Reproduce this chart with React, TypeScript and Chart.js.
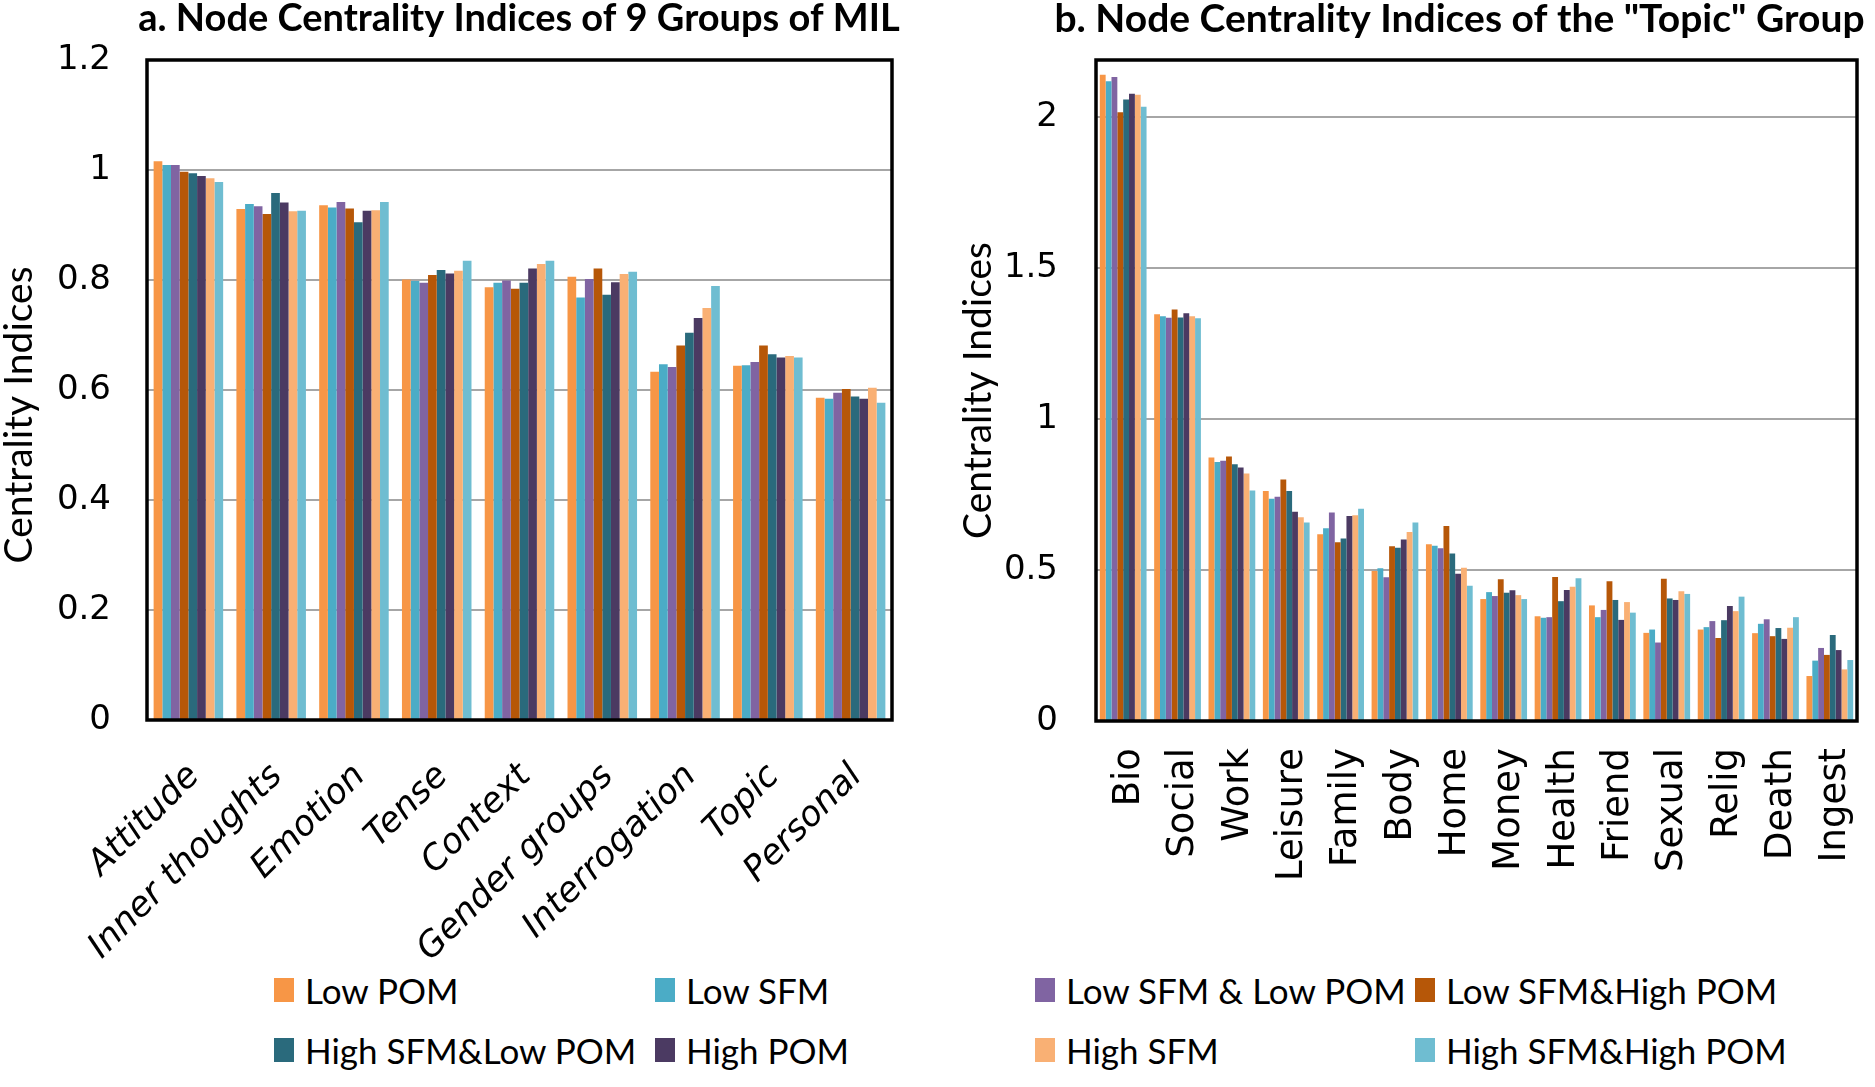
import React, { useEffect, useRef } from 'react';
import { Chart, registerables } from 'chart.js';

Chart.register(...registerables);

// ---------- data ----------
const seriesNames = [
  'Low POM',
  'Low SFM',
  'Low SFM & Low POM',
  'Low SFM&High POM',
  'High SFM&Low POM',
  'High POM',
  'High SFM',
  'High SFM&High POM',
];
const seriesColors = ['#F79646', '#4BACC6', '#8064A2', '#B65708', '#2A6A7C', '#4B3A62', '#F9B074', '#6FBDD1'];

const groupCategories = ['Attitude', 'Inner thoughts', 'Emotion', 'Tense', 'Context', 'Gender groups', 'Interrogation', 'Topic', 'Personal'];
const groupTicks = [0, 0.2, 0.4, 0.6, 0.8, 1, 1.2];

const groupLowPOM = [1.016, 0.929, 0.936, 0.801, 0.787, 0.806, 0.633, 0.644, 0.586];
const groupLowSFM = [1.009, 0.938, 0.932, 0.798, 0.795, 0.768, 0.647, 0.645, 0.584];
const groupLowSFMLowPOM = [1.009, 0.934, 0.942, 0.795, 0.799, 0.802, 0.642, 0.651, 0.595];
const groupLowSFMHighPOM = [0.997, 0.92, 0.93, 0.809, 0.784, 0.821, 0.681, 0.681, 0.602];
const groupHighSFMLowPOM = [0.994, 0.958, 0.905, 0.818, 0.795, 0.773, 0.704, 0.665, 0.588];
const groupHighPOM = [0.989, 0.941, 0.926, 0.812, 0.821, 0.796, 0.731, 0.659, 0.584];
const groupHighSFM = [0.985, 0.925, 0.927, 0.817, 0.829, 0.811, 0.749, 0.662, 0.604];
const groupHighSFMHighPOM = [0.978, 0.926, 0.942, 0.835, 0.835, 0.815, 0.789, 0.659, 0.577];

const topicCategories = ['Bio', 'Social', 'Work', 'Leisure', 'Family', 'Body', 'Home', 'Money', 'Health', 'Friend', 'Sexual', 'Relig', 'Death', 'Ingest'];
const topicTicks = [0, 0.5, 1, 1.5, 2];

const topicLowPOM = [2.141, 1.348, 0.873, 0.762, 0.619, 0.497, 0.586, 0.404, 0.347, 0.383, 0.292, 0.303, 0.291, 0.149];
const topicLowSFM = [2.12, 1.341, 0.858, 0.736, 0.639, 0.506, 0.581, 0.427, 0.342, 0.344, 0.303, 0.311, 0.322, 0.2];
const topicLowSFMLowPOM = [2.134, 1.336, 0.862, 0.743, 0.691, 0.476, 0.572, 0.414, 0.344, 0.368, 0.26, 0.331, 0.337, 0.242];
const topicLowSFMHighPOM = [2.017, 1.363, 0.876, 0.8, 0.592, 0.579, 0.646, 0.47, 0.477, 0.463, 0.471, 0.275, 0.281, 0.219];
const topicHighSFMLowPOM = [2.059, 1.337, 0.851, 0.762, 0.605, 0.574, 0.555, 0.425, 0.397, 0.401, 0.406, 0.334, 0.308, 0.285];
const topicHighPOM = [2.078, 1.351, 0.84, 0.693, 0.679, 0.601, 0.488, 0.433, 0.434, 0.335, 0.401, 0.381, 0.272, 0.235];
const topicHighSFM = [2.075, 1.341, 0.82, 0.675, 0.682, 0.626, 0.508, 0.417, 0.445, 0.394, 0.43, 0.364, 0.309, 0.171];
const topicHighSFMHighPOM = [2.035, 1.334, 0.764, 0.658, 0.703, 0.658, 0.448, 0.404, 0.473, 0.359, 0.421, 0.412, 0.344, 0.202];

const groupSeries = [groupLowPOM, groupLowSFM, groupLowSFMLowPOM, groupLowSFMHighPOM, groupHighSFMLowPOM, groupHighPOM, groupHighSFM, groupHighSFMHighPOM];
const topicSeries = [topicLowPOM, topicLowSFM, topicLowSFMLowPOM, topicLowSFMHighPOM, topicHighSFMLowPOM, topicHighPOM, topicHighSFM, topicHighSFMHighPOM];

// legend order (two rows of four)
const legendRows = [
  [0, 1, 2, 3],
  [4, 5, 6, 7],
];

// ---------- helpers ----------
const framePlugin = {
  id: 'frame',
  afterDraw(chart: any) {
    const { ctx, chartArea: a } = chart;
    ctx.save();
    ctx.strokeStyle = '#000';
    ctx.lineWidth = 3.5;
    ctx.strokeRect(a.left, a.top, a.right - a.left, a.bottom - a.top);
    ctx.restore();
  },
};

const fmt = (v: number) => String(Number(Number(v).toFixed(2)));

interface PanelProps {
  left: number;
  width: number;
  height: number;
  title: string;
  titleSize: number;
  categories: string[];
  series: number[][];
  ticks: number[];
  yMax: number;
  yAxisWidth: number;
  rightSpace: number;
  xAxisHeight: number;
  yTitle: string;
  yTitleOffset: number;
  tickPad: number;
  catPct: number;
  xFont: any;
  xRotation: number;
  xPad: number;
  xLabelOffset: number;
}

function Panel(p: PanelProps) {
  const ref = useRef<HTMLCanvasElement | null>(null);
  useEffect(() => {
    if (!ref.current) return;
    const chart = new Chart(ref.current, {
      type: 'bar',
      data: {
        labels: p.categories,
        datasets: p.series.map((vals, i) => ({
          label: seriesNames[i],
          data: vals,
          backgroundColor: seriesColors[i],
          borderWidth: 0,
          barPercentage: 1,
          categoryPercentage: p.catPct,
          yAxisID: 'y',
        })),
      },
      options: {
        responsive: false,
        animation: false,
        devicePixelRatio: 1,
        layout: { padding: 0 },
        plugins: {
          legend: { display: false },
          tooltip: { enabled: false },
          title: {
            display: true,
            text: p.title,
            fullSize: true,
            color: '#000',
            font: { family: 'Lato', size: p.titleSize, weight: 'bold', lineHeight: 1.0 },
            padding: { top: 0, bottom: 60 - p.titleSize },
          },
        },
        scales: {
          x: {
            grid: { display: false, drawTicks: false },
            border: { display: false },
            ticks: {
              color: '#000',
              font: p.xFont,
              autoSkip: false,
              minRotation: p.xRotation,
              maxRotation: p.xRotation,
              padding: p.xPad,
              labelOffset: p.xLabelOffset,
            },
            afterFit: (s: any) => {
              s.height = p.xAxisHeight;
            },
          },
          y: {
            position: 'left',
            min: 0,
            max: p.yMax,
            afterBuildTicks: (s: any) => {
              s.ticks = p.ticks.map((v) => ({ value: v }));
            },
            grid: { color: '#A6A6A6', lineWidth: 2, drawTicks: false },
            border: { display: false },
            ticks: {
              color: '#000',
              font: { family: 'DejaVu Sans', size: 34 },
              padding: p.tickPad,
              callback: (v: any) => fmt(v),
            },
            title: {
              display: true,
              text: p.yTitle,
              color: '#000',
              font: { family: 'Lato', size: 39, lineHeight: 1.0 },
              padding: { top: p.yTitleOffset, bottom: 0 },
            },
            afterFit: (s: any) => {
              s.width = p.yAxisWidth;
            },
          },
          spacer: {
            type: 'linear',
            position: 'right',
            display: true,
            grid: { display: false, drawTicks: false },
            border: { display: false },
            ticks: { display: false },
            afterFit: (s: any) => {
              s.width = p.rightSpace;
            },
          },
        },
      } as any,
      plugins: [framePlugin],
    });
    return () => chart.destroy();
  }, []);
  return (
    <canvas
      ref={ref}
      width={p.width}
      height={p.height}
      style={{ position: 'absolute', left: p.left, top: 0, width: p.width, height: p.height }}
    />
  );
}

const legendColX = [274, 655, 1035, 1415];
const legendRowY = [990, 1050];

export default function App() {
  return (
    <div
      style={{
        position: 'absolute',
        left: 0,
        top: 0,
        width: 1875,
        height: 1087,
        background: '#fff',
        overflow: 'hidden',
      }}
    >
      <Panel
        left={0}
        width={1038}
        height={960}
        title="a. Node Centrality Indices of 9 Groups of MIL"
        titleSize={38}
        categories={groupCategories}
        series={groupSeries}
        ticks={groupTicks}
        yMax={1.2}
        yAxisWidth={147}
        rightSpace={146}
        xAxisHeight={240}
        yTitle={'Centrality Indices\u00A0\u00A0\u00A0\u00A0\u00A0'}
        yTitleOffset={0}
        tickPad={36}
        catPct={0.84}
        xFont={{ family: 'DejaVu Sans', size: 35, style: 'italic' }}
        xRotation={45}
        xPad={36}
        xLabelOffset={6}
      />
      <Panel
        left={940}
        width={1039}
        height={960}
        title={'b. Node Centrality Indices of the "Topic" Group'}
        titleSize={39}
        categories={topicCategories}
        series={topicSeries}
        ticks={topicTicks}
        yMax={2.19}
        yAxisWidth={156}
        rightSpace={122}
        xAxisHeight={239}
        yTitle="Centrality Indices"
        yTitleOffset={19}
        tickPad={38}
        catPct={0.86}
        xFont={{ family: 'DejaVu Sans', size: 37 }}
        xRotation={90}
        xPad={27}
        xLabelOffset={6}
      />
      {legendRows.map((row, r) =>
        row.map((si, c) => (
          <div
            key={si}
            style={{
              position: 'absolute',
              left: legendColX[c],
              top: legendRowY[r] - 22,
              height: 44,
              display: 'flex',
              alignItems: 'center',
              whiteSpace: 'nowrap',
            }}
          >
            <span style={{ display: 'inline-block', width: 20, height: 24, background: seriesColors[si], marginRight: 11 }} />
            <span style={{ fontFamily: 'Lato', fontSize: 35, color: '#000', lineHeight: 1 }}>{seriesNames[si]}</span>
          </div>
        ))
      )}
    </div>
  );
}
